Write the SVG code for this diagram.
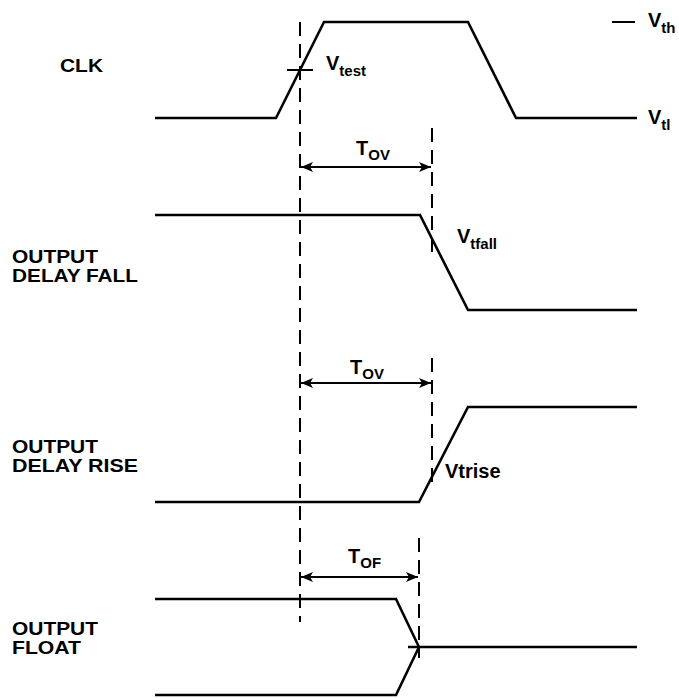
<svg xmlns="http://www.w3.org/2000/svg" width="679" height="698" viewBox="0 0 679 698">
<style>
.sig{fill:none;stroke:#000;stroke-width:2.6;stroke-linejoin:miter}
.dash{fill:none;stroke:#000;stroke-width:2;stroke-dasharray:14 8}
.dim{fill:none;stroke:#000;stroke-width:2}
.tick{fill:none;stroke:#000;stroke-width:2}
text{font-family:"Liberation Sans",Arial,Helvetica,sans-serif;font-weight:bold;fill:#000}
.lbl{font-size:18px}
.big{font-size:20px}
.sub{font-size:15px}
</style>
<defs>
<marker id="ah" viewBox="0 0 12 10" refX="12" refY="5" markerWidth="12" markerHeight="10" markerUnits="userSpaceOnUse" orient="auto-start-reverse">
<path d="M0,0 L12,5 L0,10 L3,5 Z" fill="#000"/>
</marker>
</defs>
<rect width="679" height="698" fill="#fff"/>

<g id="connectors">
<line class="dash" x1="300" y1="22" x2="300" y2="622"/>
<line class="dash" x1="432" y1="128" x2="432" y2="252"/>
<line class="dash" x1="432" y1="358" x2="432" y2="488"/>
<line class="dash" x1="419" y1="538" x2="419" y2="658"/>
<line class="dim" x1="301" y1="167" x2="431" y2="167" marker-start="url(#ah)" marker-end="url(#ah)"/>
<line class="dim" x1="301" y1="383" x2="431" y2="383" marker-start="url(#ah)" marker-end="url(#ah)"/>
<line class="dim" x1="301" y1="577" x2="418" y2="577" marker-start="url(#ah)" marker-end="url(#ah)"/>
</g>

<g id="clk">
<text class="lbl" x="60" y="72" textLength="43" lengthAdjust="spacingAndGlyphs">CLK</text>
<polyline class="sig" points="155,118 276,118 324,22 468,22 516,118 637,118"/>
<line class="tick" x1="287" y1="70" x2="313" y2="70"/>
<line class="tick" x1="612" y1="22" x2="635" y2="22"/>
<text x="326" y="70"><tspan class="big">V</tspan><tspan class="sub" dy="6">test</tspan></text>
<text x="648" y="27"><tspan class="big">V</tspan><tspan class="sub" dy="6">th</tspan></text>
<text x="648" y="124"><tspan class="big">V</tspan><tspan class="sub" dy="6">tl</tspan></text>
</g>

<g id="tov1">
<text x="356" y="155"><tspan class="big">T</tspan><tspan class="sub" dy="5">OV</tspan></text>
</g>

<g id="output-delay-fall">
<text class="lbl" x="12" y="263" textLength="86" lengthAdjust="spacingAndGlyphs">OUTPUT</text>
<text class="lbl" x="12" y="282" textLength="126" lengthAdjust="spacingAndGlyphs">DELAY FALL</text>
<polyline class="sig" points="155,215 420,215 468,310 637,310"/>
<text x="457" y="243"><tspan class="big">V</tspan><tspan class="sub" dy="6">tfall</tspan></text>
</g>

<g id="tov2">
<text x="350" y="374"><tspan class="big">T</tspan><tspan class="sub" dy="5">OV</tspan></text>
</g>

<g id="output-delay-rise">
<text class="lbl" x="12" y="453" textLength="86" lengthAdjust="spacingAndGlyphs">OUTPUT</text>
<text class="lbl" x="12" y="472" textLength="126" lengthAdjust="spacingAndGlyphs">DELAY RISE</text>
<polyline class="sig" points="155,502 419,502 468,407 637,407"/>
<text class="big" x="445" y="478">Vtrise</text>
</g>

<g id="tof">
<text x="348" y="563"><tspan class="big">T</tspan><tspan class="sub" dy="5">OF</tspan></text>
</g>

<g id="output-float">
<text class="lbl" x="12" y="635" textLength="86" lengthAdjust="spacingAndGlyphs">OUTPUT</text>
<text class="lbl" x="12" y="654" textLength="69" lengthAdjust="spacingAndGlyphs">FLOAT</text>
<polyline class="sig" points="155,599 396,599 419,647"/>
<polyline class="sig" points="155,695 396,695 419,647"/>
<line class="sig" x1="408" y1="647" x2="637" y2="647"/>
</g>
</svg>
